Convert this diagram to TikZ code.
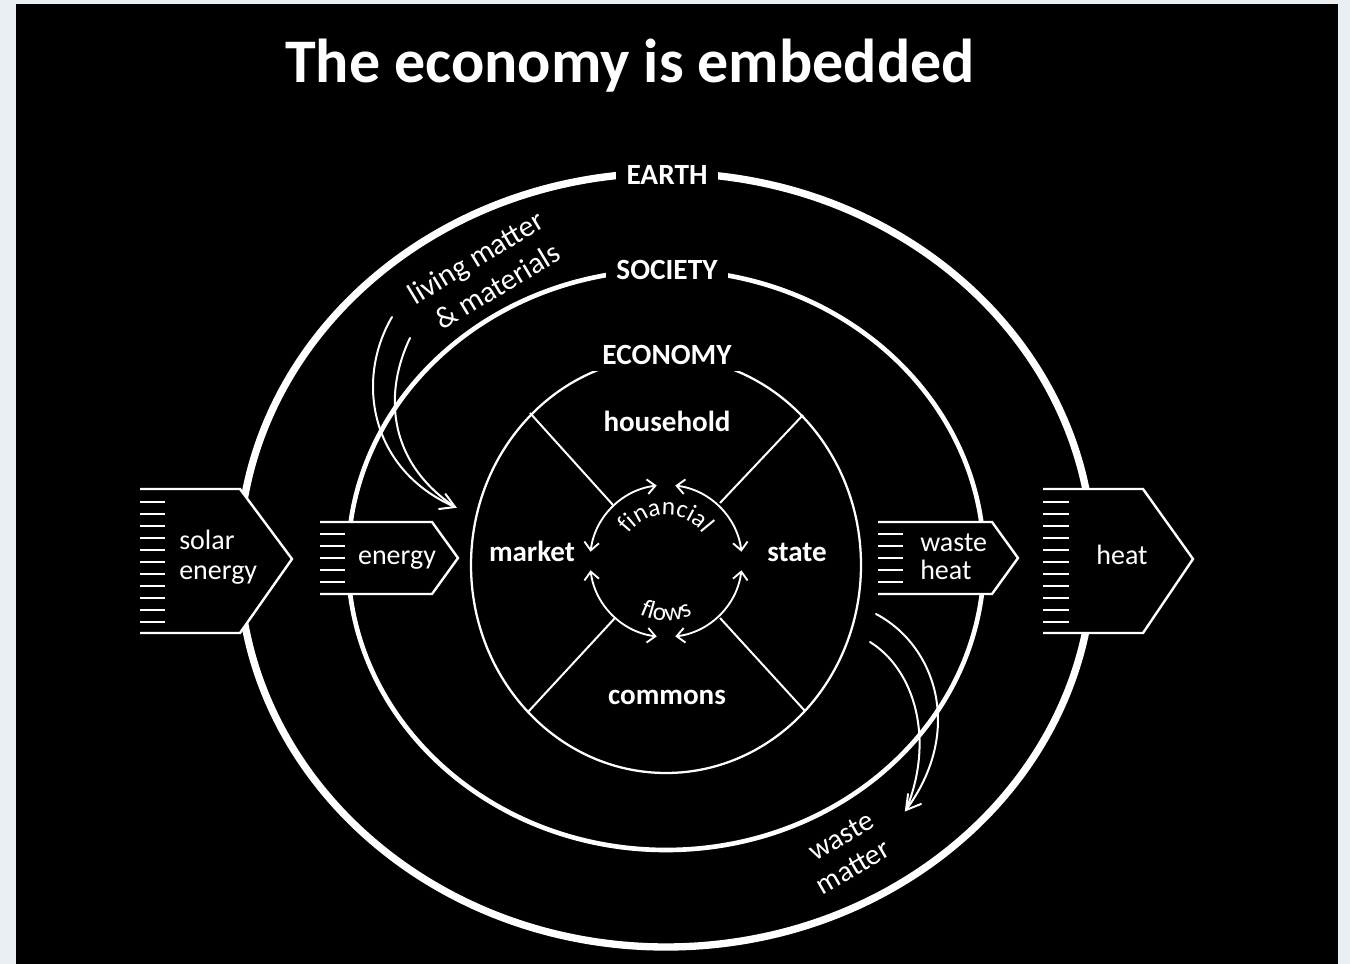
\documentclass[tikz,border=0pt]{standalone}
\usepackage{fontspec}
\setmainfont{Carlito}
\usetikzlibrary{arrows.meta,decorations.text}
\definecolor{edgegray}{HTML}{EAEFF3}
\newcommand{\flowfnt}{\fontsize{19}{21}\selectfont}
\begin{document}
\begin{tikzpicture}[x=0.75pt,y=0.75pt,
  every node/.style={text=white, inner sep=0pt},
  boldlab/.style={font=\fontsize{21.8}{26}\selectfont\bfseries},
  reglab/.style={font=\fontsize{21}{25}\selectfont},
  ringlab/.style={font=\fontsize{22}{26}\selectfont\bfseries, fill=black, inner xsep=8pt, inner ysep=4pt},
  earthline/.style={draw=white, line width=5.5pt},
  societyline/.style={draw=white, line width=3.5pt},
  economyline/.style={draw=white, line width=1.7pt},
  thinline/.style={draw=white, line width=1.5pt, line cap=round},
  boxline/.style={draw=white, line width=1.8pt, line join=miter},
  stripe/.style={draw=white, line width=1.9pt},
  flowarrow/.style={draw=white, line width=1.4pt, {Straight Barb[length=6pt,width=11pt]}-{Straight Barb[length=6pt,width=11pt]}},
]
\useasboundingbox (0,0) rectangle (1350,964);
\fill[edgegray] (0,0) rectangle (1350,964);
\fill[black] (16,0) rectangle (1338,960);

% rings
\draw[earthline] (666,404) ellipse [x radius=427, y radius=387];
\draw[societyline] (666,404) ellipse [x radius=318, y radius=290];
\draw[economyline] (666,399) ellipse [x radius=195, y radius=208];

% radial dividers
\draw[economyline, line width=1.5pt] (613,459) -- (530,551);
\draw[economyline, line width=1.5pt] (720,461) -- (803,549);
\draw[economyline, line width=1.5pt] (615,346) -- (528,252);
\draw[economyline, line width=1.5pt] (720,346) -- (805,253);

% financial flows arrows
\draw[flowarrow] (666,403) ++(97:76) arc[start angle=97, end angle=173, radius=76];
\draw[flowarrow] (666,403) ++(83:76) arc[start angle=83, end angle=7, radius=76];
\draw[flowarrow] (666,403) ++(187:76) arc[start angle=187, end angle=263, radius=76];
\draw[flowarrow] (666,403) ++(277:76) arc[start angle=277, end angle=353, radius=76];
\path[decorate, decoration={text along path, text={|\flowfnt|financial}, text align=center, text color=white}]
  (666,403) ++(148:46) arc[start angle=148, end angle=32, radius=46];
\path[decorate, decoration={text along path, text={|\flowfnt|flows}, text align=center, text color=white}]
  (666,403) ++(215:60) arc[start angle=215, end angle=325, radius=60];

% solar energy arrow
\fill[black] (140,475) -- (240,475) -- (292,405) -- (240,331) -- (140,331) -- cycle;
\draw[boxline] (140,475) -- (240,475) -- (292,405) -- (240,331) -- (140,331);
\foreach \yy in {462,450,...,342} \draw[stripe] (140,\yy) -- (165,\yy);
% energy arrow
\fill[black] (320,442) -- (432,442) -- (458,406) -- (432,370) -- (320,370) -- cycle;
\draw[boxline] (320,442) -- (432,442) -- (458,406) -- (432,370) -- (320,370);
\foreach \yy in {430,418,...,382} \draw[stripe] (320,\yy) -- (345,\yy);
% waste heat arrow
\fill[black] (878,442) -- (992,442) -- (1018,406) -- (992,370) -- (878,370) -- cycle;
\draw[boxline] (878,442) -- (992,442) -- (1018,406) -- (992,370) -- (878,370);
\foreach \yy in {430,418,...,382} \draw[stripe] (878,\yy) -- (903,\yy);
% heat arrow
\fill[black] (1043,475) -- (1143,475) -- (1193,405) -- (1143,331) -- (1043,331) -- cycle;
\draw[boxline] (1043,475) -- (1143,475) -- (1193,405) -- (1143,331) -- (1043,331);
\foreach \yy in {462,450,...,342} \draw[stripe] (1043,\yy) -- (1069,\yy);

% ring labels
\node[ringlab, anchor=base] (earth) at (667,779) {EARTH};
\node[ringlab, anchor=base] (society) at (667,684) {SOCIETY};
\node[ringlab, anchor=base] (economy) at (667,599) {ECONOMY};

% sector labels
\node[boldlab, anchor=base] (household) at (667,532) {household};
\node[boldlab, anchor=base] (market) at (532,402) {market};
\node[boldlab, anchor=base] (state) at (797,402) {state};
\node[boldlab, anchor=base] (commons) at (667,259) {commons};

% arrow labels
\node[reglab, anchor=base west] (solar) at (179,414) {solar};
\node[reglab, anchor=base west] (solarenergy) at (179,384) {energy};
\node[reglab, anchor=base] (energy) at (397,399) {energy};
\node[reglab, anchor=base west] (waste) at (920,412) {waste};
\node[reglab, anchor=base west] (wasteheat) at (920,384) {heat};
\node[reglab, anchor=base] (heat) at (1122,399) {heat};

% living matter inflow
\draw[thinline] (392,647) .. controls (355,584) and (370,494) .. (455,457);
\draw[thinline] (410,626) .. controls (385,574) and (385,504) .. (455,457);
\draw[thinline] (445.5,470) -- (455,457) -- (439,455);
\node[font=\fontsize{22.5}{25}\selectfont, rotate=31] (living) at (477,705) {living matter};
\node[font=\fontsize{22.5}{25}\selectfont, rotate=31] (materials) at (497,678) {\& materials};

% waste matter outflow
\draw[thinline] (876,350) .. controls (935,319) and (965,234) .. (906,154);
\draw[thinline] (870,322) .. controls (915,294) and (935,224) .. (906,154);
\draw[thinline] (921,160) -- (906,154) -- (908,170);
\node[font=\fontsize{22}{25}\selectfont, rotate=30] (waste2) at (841,128) {waste};
\node[font=\fontsize{22}{25}\selectfont, rotate=30] (matter) at (853,97) {matter};

% title
\node[font=\fontsize{46.5}{50}\selectfont\bfseries, anchor=base] (title) at (630,881) {The economy is embedded};
\end{tikzpicture}
\end{document}
